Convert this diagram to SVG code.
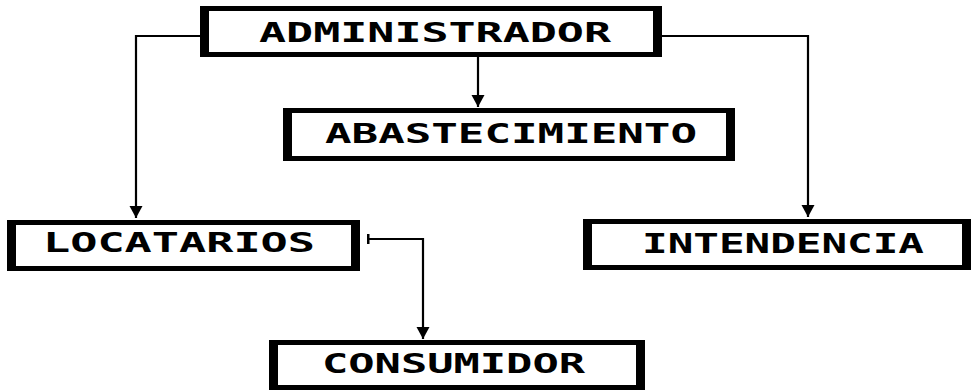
<svg xmlns="http://www.w3.org/2000/svg" width="975" height="392" viewBox="0 0 975 392">
<defs>
<style>
.frame{fill:#fff;stroke:#000;stroke-width:5}
.side{fill:#000}
.lbl{font-family:"DejaVu Sans Mono","Liberation Mono",monospace;font-weight:bold;font-size:27px;fill:#000}
.conn{fill:none;stroke:#000;stroke-width:2.2}
</style>
<marker id="arrow" markerWidth="14" markerHeight="14" refX="12" refY="7" orient="auto" markerUnits="userSpaceOnUse"><path d="M0,0.5 L12,7 L0,13.5 Z" fill="#000"/></marker>
<marker id="tick" markerWidth="4" markerHeight="10" refX="1.5" refY="5" orient="auto" markerUnits="userSpaceOnUse"><rect x="0" y="0" width="3" height="10" fill="#000"/></marker>
</defs>
<rect width="975" height="392" fill="#fff"/>
<g id="connectors">
<path class="conn" d="M200,36 H136 V218" marker-end="url(#arrow)"/>
<path class="conn" d="M662,36 H808 V217" marker-end="url(#arrow)"/>
<path class="conn" d="M478,57 V107" marker-end="url(#arrow)"/>
<path class="conn" d="M368,239 H423 V339" marker-start="url(#tick)" marker-end="url(#arrow)"/>
</g>
<g id="administrador">
<rect class="frame" x="202.5" y="8.5" width="457" height="46"/>
<rect class="side" x="200" y="6" width="9" height="51"/>
<rect class="side" x="653" y="6" width="9" height="51"/>
<text class="lbl" x="259" y="42" textLength="352" lengthAdjust="spacingAndGlyphs">ADMINISTRADOR</text>
</g>
<g id="abastecimiento">
<rect class="frame" x="285.5" y="110.5" width="447" height="48"/>
<rect class="side" x="283" y="108" width="9" height="53"/>
<rect class="side" x="726" y="108" width="9" height="53"/>
<text class="lbl" x="325" y="143" textLength="372" lengthAdjust="spacingAndGlyphs">ABASTECIMIENTO</text>
</g>
<g id="locatarios">
<rect class="frame" x="9.5" y="222.5" width="348" height="46"/>
<rect class="side" x="7" y="220" width="9" height="51"/>
<rect class="side" x="351" y="220" width="9" height="51"/>
<text class="lbl" x="43" y="252" textLength="272" lengthAdjust="spacingAndGlyphs">LOCATARIOS</text>
</g>
<g id="intendencia">
<rect class="frame" x="585.5" y="221.5" width="383" height="46"/>
<rect class="side" x="583" y="219" width="9" height="51"/>
<rect class="side" x="962" y="219" width="9" height="51"/>
<text class="lbl" x="642" y="253" textLength="282" lengthAdjust="spacingAndGlyphs">INTENDENCIA</text>
</g>
<g id="consumidor">
<rect class="frame" x="271.5" y="342.5" width="371" height="45"/>
<rect class="side" x="269" y="340" width="9" height="50"/>
<rect class="side" x="636" y="340" width="9" height="50"/>
<text class="lbl" x="322" y="373" textLength="263" lengthAdjust="spacingAndGlyphs">CONSUMIDOR</text>
</g>
</svg>
